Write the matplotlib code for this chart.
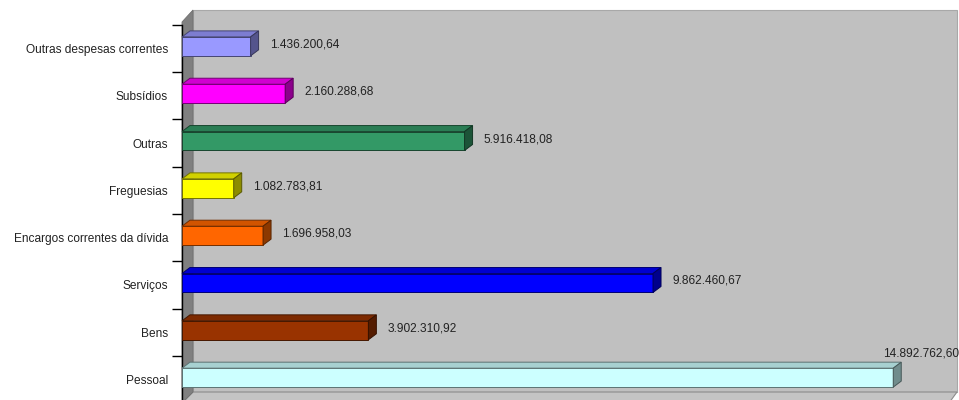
import matplotlib
matplotlib.use('Agg')
import matplotlib.pyplot as plt
from matplotlib.patches import Polygon
import numpy as np

plt.rcParams['font.family'] = ['Liberation Sans', 'DejaVu Sans']

categories = ["Pessoal", "Bens", "Serviços", "Encargos correntes da dívida",
              "Freguesias", "Outras", "Subsídios", "Outras despesas correntes"]
values = [14892762.60, 3902310.92, 9862460.67, 1696958.03,
          1082783.81, 5916418.08, 2160288.68, 1436200.64]
colors = ["#CCFFFF", "#993300", "#0000FF", "#FF6600",
          "#FFFF00", "#339966", "#FF00FF", "#9999FF"]


def fmt_pt(v):
    s = f"{v:,.2f}"
    return s.replace(",", "X").replace(".", ",").replace("X", ".")


def shade(c, f):
    r, g, b = matplotlib.colors.to_rgb(c)
    return (r * f, g * f, b * f)


W, H = 959, 400
fig = plt.figure(figsize=(W / 100, H / 100), dpi=100)
fig.patch.set_facecolor('white')

# background walls (pixel coordinates)
bg = fig.add_axes([0, 0, 1, 1])
bg.set_xlim(0, W)
bg.set_ylim(H, 0)
bg.axis('off')
bg.add_patch(Polygon([(193, 10), (957, 10), (957, 392), (193, 392)],
                     closed=True, fc='#C0C0C0', ec='#A8A8A8', lw=0.8))
bg.add_patch(Polygon([(182, 403), (193, 392), (957, 392), (949, 403)],
                     closed=True, fc='#C4C4C4', ec='#8C8C8C', lw=0.8))
bg.add_patch(Polygon([(182, 22), (193, 10), (193, 392), (182, 403)],
                     closed=True, fc='#808080', ec='#707070', lw=0.6))

# main axes (front plane)
ax_left, ax_w = 182, 767
ax_top, ax_h = 24.7, 378.6
ax = fig.add_axes([ax_left / W, (H - ax_top - ax_h) / H, ax_w / W, ax_h / H])
ax.patch.set_alpha(0)
xmax = 16.06e6
ax.set_xlim(0, xmax)
ax.set_ylim(-0.5, len(categories) - 0.5)
for s in ['top', 'right', 'bottom']:
    ax.spines[s].set_visible(False)
ax.spines['left'].set_color('black')
ax.spines['left'].set_linewidth(1.0)
ax.set_xticks([])
ypos = np.arange(len(categories))
ax.set_yticks(ypos)
ax.set_yticklabels(categories, fontsize=8.6, color='#222222')
ax.tick_params(axis='y', which='major', length=0, pad=10)
ax.set_yticks(np.arange(-0.5, len(categories), 1), minor=True)
ax.tick_params(axis='y', which='minor', length=7, width=1, color='black')

px_x = ax_w / xmax
px_y = ax_h / len(categories)
dx = 8 / px_x
dy = 6 / px_y
h = 0.40
yshift = 2 / px_y
bary = ypos + yshift

ax.barh(bary, values, height=h, color=colors,
        edgecolor=[shade(c, 0.45) for c in colors], linewidth=0.7, zorder=3)
for i, (yc, v, c) in enumerate(zip(bary, values, colors)):
    y0, y1 = yc - h / 2, yc + h / 2
    ax.add_patch(Polygon([(0, y1), (v, y1), (v + dx, y1 + dy), (dx, y1 + dy)],
                         closed=True, fc=shade(c, 0.82), ec=shade(c, 0.45),
                         lw=0.7, zorder=3, clip_on=False))
    ax.add_patch(Polygon([(v, y0), (v + dx, y0 + dy), (v + dx, y1 + dy), (v, y1)],
                         closed=True, fc=shade(c, 0.55), ec=shade(c, 0.35),
                         lw=0.7, zorder=3, clip_on=False))
    label = fmt_pt(v)
    if v + 95 / px_x > xmax:
        ax.annotate(label, xy=(v, y1 + dy), xytext=(-10 * 0.72, 3 * 0.72),
                    textcoords='offset points', ha='left', va='bottom',
                    fontsize=8.6, color='#222222', annotation_clip=False)
    else:
        ax.annotate(label, xy=(v, yc), xytext=(19 * 0.72, 2 * 0.72),
                    textcoords='offset points', ha='left', va='center',
                    fontsize=8.6, color='#222222', annotation_clip=False)

fig.savefig('out.png', dpi=100)
